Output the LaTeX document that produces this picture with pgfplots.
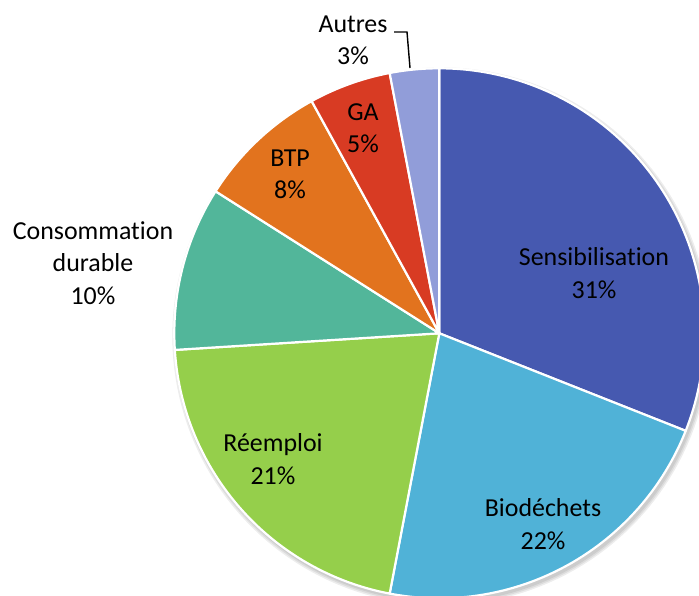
\documentclass[border=0pt]{standalone}
\usepackage{pgfplots}
\pgfplotsset{compat=1.18}
\usepackage{pgfplotstable}
\usepackage{fontspec}
\setmainfont[Ligatures={NoCommon,NoRequired,NoContextual}]{Carlito}

\definecolor{cSens}{HTML}{4659B0}
\definecolor{cBio}{HTML}{50B2D7}
\definecolor{cReem}{HTML}{95CF4B}
\definecolor{cCons}{HTML}{52B69A}
\definecolor{cBTP}{HTML}{E2731E}
\definecolor{cGA}{HTML}{D83B23}
\definecolor{cAutres}{HTML}{919DD9}

% share of each theme (%), clockwise from 12 o'clock
\pgfplotstableread{
value color
31 cSens
22 cBio
21 cReem
10 cCons
8  cBTP
5  cGA
3  cAutres
}\piedata

% pie centre and radius (in bp)
\def\cx{439.3}
\def\cy{262.7}
\def\R{265}

\begin{document}
\begin{tikzpicture}
% cumulative start/end angles of the slices
\def\startangle{90}
\pgfplotsforeachungrouped \i in {0,...,6}{%
  \pgfplotstablegetelem{\i}{value}\of\piedata
  \pgfmathsetmacro\endang{\startangle - 3.6*\pgfplotsretval}%
  \expandafter\xdef\csname a\i\endcsname{\startangle}%
  \expandafter\xdef\csname b\i\endcsname{\endang}%
  \xdef\startangle{\endang}%
  \pgfplotstablegetelem{\i}{color}\of\piedata
  \expandafter\xdef\csname c\i\endcsname{\pgfplotsretval}%
}
\begin{axis}[
  hide axis,
  x=1bp, y=1bp,
  xmin=0, xmax=699, ymin=0, ymax=596,
  enlargelimits=false,
  clip=true,
]
\path (0,0) rectangle (699,596);
% soft shadow under the pie
\pgfplotsinvokeforeach{1,2.5,4}{%
  \addplot[draw=none, fill=black, fill opacity=0.07, domain=0:360, samples=180, variable=\t]
    ({\cx+2+(\R+#1)*cos(\t)},{\cy-3+(\R+#1)*sin(\t)});
}
% slices
\pgfplotsinvokeforeach{0,...,6}{%
  \addplot[fill=\csname c#1\endcsname, draw=white, line width=2.2bp, line join=round,
    domain=\csname b#1\endcsname:\csname a#1\endcsname, samples=90, variable=\t]
    ({\cx+\R*cos(\t)},{\cy+\R*sin(\t)}) -- (\cx,\cy) -- cycle;
}
% data labels
\tikzset{lbl/.style={align=center, text=black, inner sep=0pt,
  font=\fontsize{26}{32.5}\selectfont}}
\node[lbl] at (594,323) {Sensibilisation\\31\%};
\node[lbl] at (543,72) {Biodéchets\\22\%};
\node[lbl] at (273,137) {Réemploi\\21\%};
\node[lbl] at (93,333) {Consommation\\durable\\10\%};
\node[lbl] at (290,422) {BTP\\8\%};
\node[lbl] at (363,468) {GA\\5\%};
\node[lbl] at (353,556) {Autres\\3\%};
\draw[black, line width=1.4bp] (394,564) -- (407,564) -- (410,528);
\end{axis}
\end{tikzpicture}
\end{document}
